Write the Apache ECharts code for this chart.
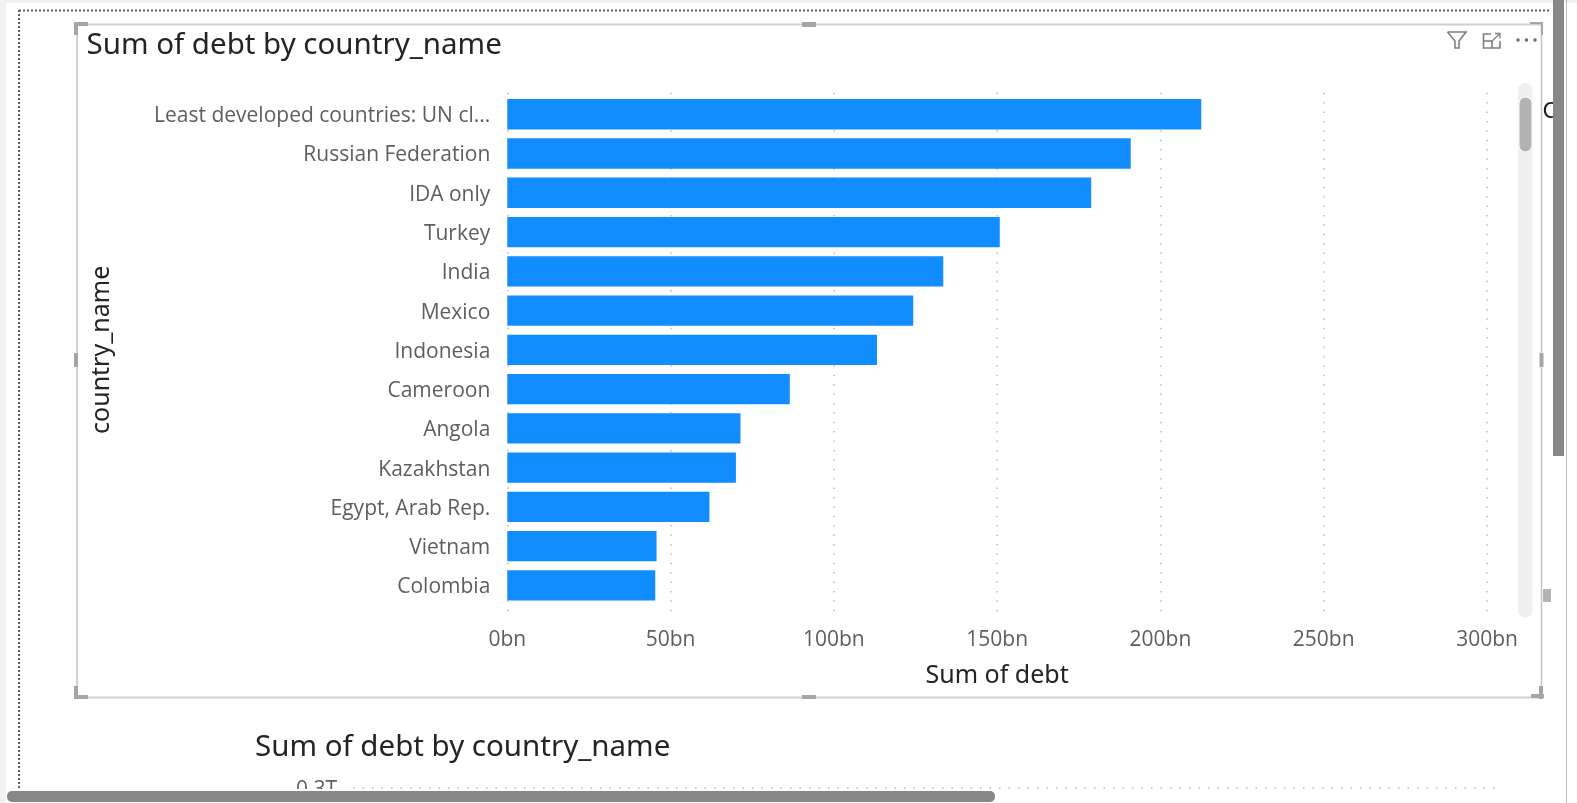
<!DOCTYPE html>
<html><head><meta charset="utf-8">
<style>html,body{margin:0;padding:0;background:#fff;overflow:hidden}#c{width:1577px;height:803px}</style>
<script src="https://cdn.jsdelivr.net/npm/echarts@6/dist/echarts.min.js"></script>
</head><body><div id="c"></div>
<script>
const categories = ["Least developed countries: UN cl...","Russian Federation","IDA only","Turkey","India","Mexico","Indonesia","Cameroon","Angola","Kazakhstan","Egypt, Arab Rep.","Vietnam","Colombia"];
const debtBn = [212.5,190.9,178.8,150.8,133.5,124.3,113.2,86.5,71.4,70.0,61.9,45.7,45.3];
const xTicks = [0,50,100,150,200,250,300];
const chartTitle = "Sum of debt by country_name";

const LABEL = '"Open Sans"', HEAD = '"Noto Sans"';
const rect = (x,y,w,h,fill,z,r) => ({type:'rect',silent:true,z:z||10,shape:{x,y,width:w,height:h,r:r||0},style:{fill}});
const line = (x1,y1,x2,y2,stroke,lw,dash,z) => ({type:'line',silent:true,z:z||10,shape:{x1,y1,x2,y2},style:{stroke,lineWidth:lw,lineDash:dash||null,fill:null}});
const txt = (x,y,t,size,fill,font,z) => ({type:'text',silent:true,z:z||10,x,y,style:{text:t,fontSize:size,fill,fontFamily:font,textVerticalAlign:'middle',verticalAlign:'middle'}});
const H='#a6a6a6';
const corners = [
  rect(74,22,14,4,H,12),rect(74,22,4,13,H,12),
  rect(1530,22,13,2,H,12),rect(1541,22,2,13,H,12),
  rect(74,695,14,4,H,12),rect(74,686,4,13,H,12),
  rect(1531,694,13,4,H,12),rect(1539,686,4,13,H,12),
  rect(802,22,14,5,H,12),rect(802,695,14,4,H,12),
  rect(74,353,4,14,H,12),rect(1539.5,353,4,14,H,12),rect(1543,589,8,13,'#b3b3b3',12)
];
const chrome = [
  rect(0,0,1577,3,'#f0f0f0',1),rect(0,0,6,803,'#f3f2f1',1),
  line(19,10.5,1551,10.5,'#605e5c',2,[2,2],2),line(19,10,19,790,'#605e5c',2,[2,2],2),
  rect(1518,83,14.5,534.5,'#efefef',3,7),
  {type:'rect',silent:true,z:4,shape:{x:1519,y:97,width:13,height:55,r:6.5},style:{fill:'#b3b3b3',stroke:'#fff',lineWidth:1}},
  txt(1542.5,112,'C',22,'#1b1a19',HEAD,5),
  line(77,24.5,1541.5,24.5,'#cfcfcf',2,null,11),line(77,697.5,1541.5,697.5,'#cfcfcf',2,null,11),
  line(77,24,77,698,'#c4c4c4',1.5,null,11),line(1541.5,24,1541.5,698,'#c4c4c4',1.5,null,11),
  ...corners,
  txt(86.5,46,chartTitle,29.5,'#252423',HEAD),
  // icons
  {type:'polyline',silent:true,z:12,shape:{points:[[1447.5,32],[1466,32],[1459,41],[1459,48],[1455,48],[1455,41],[1447.5,32]]},style:{stroke:'#7f7f7f',lineWidth:1.6,fill:'none'}},
  {type:'polyline',silent:true,z:12,shape:{points:[[1491,34],[1483.5,34],[1483.5,48],[1500,48],[1500,41]]},style:{stroke:'#7f7f7f',lineWidth:1.6,fill:'none'}},
  line(1483.5,41,1492,41,'#7f7f7f',1.6,null,12),line(1492,41,1492,48,'#7f7f7f',1.6,null,12),
  line(1491,42,1500,33.5,'#7f7f7f',1.3,null,12),
  {type:'polyline',silent:true,z:12,shape:{points:[[1495,33.5],[1500,33.5],[1500,38.5]]},style:{stroke:'#7f7f7f',lineWidth:1.3,fill:'none'}},
  {type:'circle',silent:true,z:12,shape:{cx:1518,cy:40,r:1.7},style:{fill:'#666'}},
  {type:'circle',silent:true,z:12,shape:{cx:1526.5,cy:40,r:1.7},style:{fill:'#666'}},
  {type:'circle',silent:true,z:12,shape:{cx:1535,cy:40,r:1.7},style:{fill:'#666'}},
  // second visual, cut off by the page
  txt(255,748,chartTitle,29.5,'#252423',HEAD,5),
  txt(296,790,'0.3T',21,'#605e5c',LABEL,5),
  line(353,788,1500,788,'#bdbbb9',1.5,[1.5,8],5),
  rect(20,789,1530,14,'#fff',6),
  rect(7,791,988,11,'#8a8886',20,5),
  rect(1553,0,11,456,'#8a8886',20),
  line(1566.5,0,1566.5,803,'#bdbdbd',1,null,20)
];

const chart = echarts.init(document.getElementById('c'));
chart.setOption({
  animation:false,
  backgroundColor:'#fff',
  graphic:{elements:chrome},
  grid:[
    {left:507.3,top:92.7,width:979.7,height:525,containLabel:false},
    {left:507.3,top:94.6,width:979.7,height:510.5,containLabel:false}
  ],
  xAxis:[
    {type:'value',gridIndex:0,min:xTicks[0],max:xTicks[xTicks.length-1],interval:xTicks[1]-xTicks[0],
     name:'Sum of debt',nameLocation:'middle',nameGap:46,
     nameTextStyle:{color:'#252423',fontFamily:HEAD,fontSize:25},
     axisLine:{show:false},axisTick:{show:false},
     axisLabel:{color:'#605e5c',fontFamily:LABEL,fontSize:21,margin:12,formatter:v=>v+'bn'},
     splitLine:{show:true,lineStyle:{color:'#bdbbb9',width:1.5,type:[1.5,7.9]}}},
    {type:'value',gridIndex:1,min:xTicks[0],max:xTicks[xTicks.length-1],show:false}
  ],
  yAxis:[
    {type:'category',gridIndex:1,data:categories,inverse:true,
     name:'country_name',nameLocation:'middle',nameGap:393,nameRotate:90,
     nameTextStyle:{color:'#252423',fontFamily:HEAD,fontSize:25},
     axisLine:{show:false},axisTick:{show:false},
     axisLabel:{margin:17,formatter:v=>'{a|'+v+'}',
       rich:{a:{color:'#605e5c',fontFamily:LABEL,fontSize:21,padding:[4,0,0,0]}}},
     splitLine:{show:false}},
    {type:'value',gridIndex:0,show:false}
  ],
  series:[{type:'bar',xAxisIndex:1,yAxisIndex:0,data:debtBn,barWidth:30.3,itemStyle:{color:'#118DFF'},z:3}]
});
</script></body></html>
